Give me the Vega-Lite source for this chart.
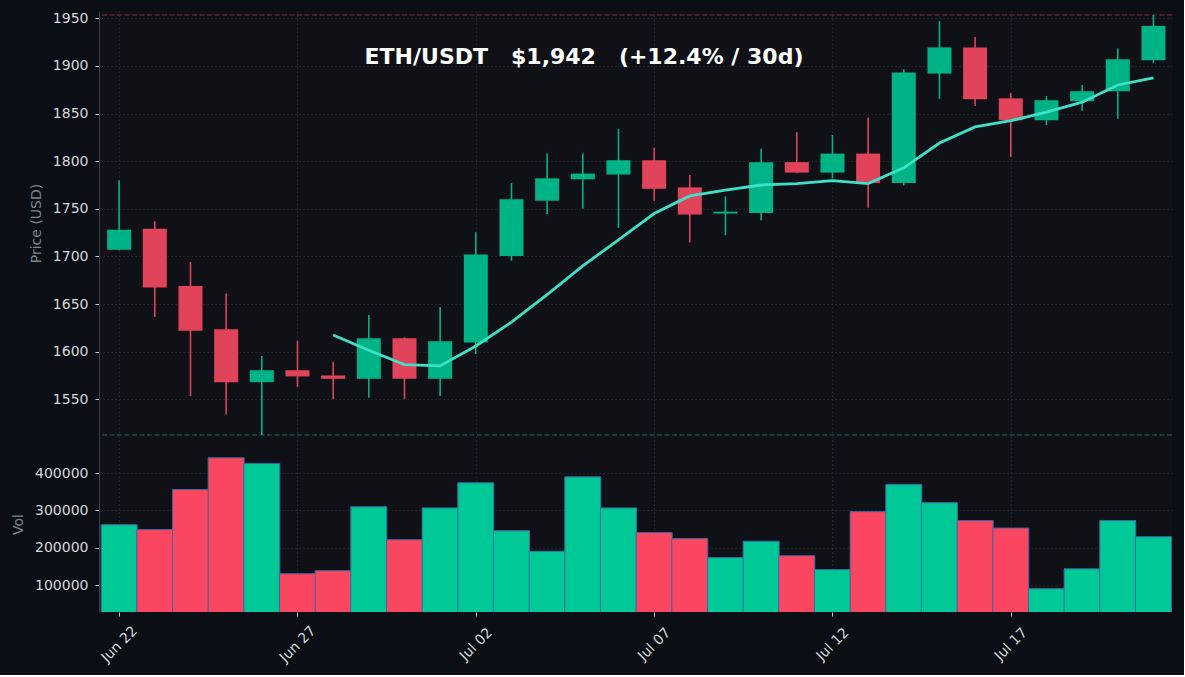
{
  "$schema": "https://vega.github.io/schema/vega-lite/v6.json",
  "background": "#0b0e14",
  "padding": {"left": 11, "top": 11, "right": 11, "bottom": 10},
  "spacing": 0,
  "title": {
    "text": "ETH/USDT\u00a0\u00a0\u00a0$1,942\u00a0\u00a0\u00a0(+12.4% / 30d)",
    "anchor": "middle",
    "frame": "bounds",
    "baseline": "alphabetic",
    "offset": -75,
    "dx": -8,
    "font": "DejaVu Sans",
    "fontSize": 22,
    "fontWeight": "bold",
    "color": "#ffffff"
  },
  "config": {
    "font": "DejaVu Sans",
    "view": {"fill": "#0f1116", "stroke": null},
    "axis": {
      "labelFont": "DejaVu Sans",
      "labelFontSize": 14,
      "labelColor": "#d4d7dd",
      "titleFont": "DejaVu Sans",
      "titleFontSize": 14,
      "titleFontWeight": "normal",
      "titleColor": "#7f838c",
      "tickColor": "#c3c6cc",
      "tickSize": 4,
      "domainColor": "#3a3e46",
      "gridColor": "#2c3039",
      "gridDash": [1.5, 2.5],
      "gridWidth": 0.8
    }
  },
  "datasets": {
    "ohlc": [
      {"date": "2023-06-22", "open": 1707, "high": 1780, "low": 1706.5, "close": 1728, "volume": 262000, "ma": null},
      {"date": "2023-06-23", "open": 1729, "high": 1737, "low": 1636.5, "close": 1667.5, "volume": 249000, "ma": null},
      {"date": "2023-06-24", "open": 1669, "high": 1694, "low": 1553.5, "close": 1622, "volume": 356000, "ma": null},
      {"date": "2023-06-25", "open": 1623.5, "high": 1661, "low": 1534, "close": 1568, "volume": 441000, "ma": null},
      {"date": "2023-06-26", "open": 1568, "high": 1595.5, "low": 1512.5, "close": 1580.5, "volume": 426000, "ma": null},
      {"date": "2023-06-27", "open": 1580.5, "high": 1611.5, "low": 1563, "close": 1574, "volume": 131000, "ma": null},
      {"date": "2023-06-28", "open": 1575, "high": 1589.5, "low": 1550, "close": 1571.5, "volume": 139000, "ma": 1617.5},
      {"date": "2023-06-29", "open": 1571.5, "high": 1638.5, "low": 1551.5, "close": 1614, "volume": 310000, "ma": 1601.5},
      {"date": "2023-06-30", "open": 1614, "high": 1615, "low": 1550.5, "close": 1571.5, "volume": 222000, "ma": 1586.5},
      {"date": "2023-07-01", "open": 1571.5, "high": 1647, "low": 1553.5, "close": 1611, "volume": 307000, "ma": 1585},
      {"date": "2023-07-02", "open": 1609.5, "high": 1725.5, "low": 1597.5, "close": 1702, "volume": 374000, "ma": 1606},
      {"date": "2023-07-03", "open": 1700.5, "high": 1777, "low": 1695.5, "close": 1760, "volume": 246000, "ma": 1631},
      {"date": "2023-07-04", "open": 1758.5, "high": 1808, "low": 1744.5, "close": 1782, "volume": 191000, "ma": 1660},
      {"date": "2023-07-05", "open": 1781, "high": 1808, "low": 1750, "close": 1787, "volume": 390000, "ma": 1690},
      {"date": "2023-07-06", "open": 1786, "high": 1834, "low": 1730, "close": 1801, "volume": 307000, "ma": 1717.5},
      {"date": "2023-07-07", "open": 1801, "high": 1814, "low": 1758.5, "close": 1771, "volume": 241000, "ma": 1745},
      {"date": "2023-07-08", "open": 1772.5, "high": 1785.5, "low": 1714.5, "close": 1744, "volume": 225000, "ma": 1763.5},
      {"date": "2023-07-09", "open": 1745, "high": 1763, "low": 1722.5, "close": 1747, "volume": 174000, "ma": 1769.5},
      {"date": "2023-07-10", "open": 1745.5, "high": 1813, "low": 1738, "close": 1799, "volume": 218000, "ma": 1775},
      {"date": "2023-07-11", "open": 1799, "high": 1830.5, "low": 1787.5, "close": 1788, "volume": 179000, "ma": 1776.5},
      {"date": "2023-07-12", "open": 1788, "high": 1827.5, "low": 1782, "close": 1808, "volume": 142000, "ma": 1779.5},
      {"date": "2023-07-13", "open": 1808, "high": 1846, "low": 1751, "close": 1777, "volume": 297000, "ma": 1776.5},
      {"date": "2023-07-14", "open": 1777, "high": 1896.5, "low": 1774.5, "close": 1893, "volume": 370000, "ma": 1793},
      {"date": "2023-07-15", "open": 1892, "high": 1947, "low": 1865.5, "close": 1919.5, "volume": 321000, "ma": 1819},
      {"date": "2023-07-16", "open": 1919.5, "high": 1930.5, "low": 1858, "close": 1865, "volume": 273000, "ma": 1836},
      {"date": "2023-07-17", "open": 1866, "high": 1871.5, "low": 1804.5, "close": 1843, "volume": 253000, "ma": 1842.5},
      {"date": "2023-07-18", "open": 1843, "high": 1868.5, "low": 1838, "close": 1864, "volume": 91000, "ma": 1851.5},
      {"date": "2023-07-19", "open": 1863, "high": 1880, "low": 1853, "close": 1873.5, "volume": 144000, "ma": 1862},
      {"date": "2023-07-20", "open": 1873.5, "high": 1918.5, "low": 1844.5, "close": 1907, "volume": 273000, "ma": 1880},
      {"date": "2023-07-21", "open": 1906, "high": 1953.5, "low": 1903, "close": 1942, "volume": 230000, "ma": 1887.5}
    ]
  },
  "vconcat": [
    {
      "width": 1073,
      "height": 424,
      "data": {"name": "ohlc"},
      "encoding": {
        "x": {
          "field": "date",
          "type": "temporal",
          "scale": {
            "type": "utc",
            "domain": [
              {"year": 2023, "month": 6, "date": 21, "hours": 13, "minutes": 48, "utc": true},
              {"year": 2023, "month": 7, "date": 21, "hours": 9, "minutes": 7, "utc": true}
            ]
          },
          "axis": {
            "values": [
              {"year": 2023, "month": 6, "date": 22, "utc": true},
              {"year": 2023, "month": 6, "date": 27, "utc": true},
              {"year": 2023, "month": 7, "date": 2, "utc": true},
              {"year": 2023, "month": 7, "date": 7, "utc": true},
              {"year": 2023, "month": 7, "date": 12, "utc": true},
              {"year": 2023, "month": 7, "date": 17, "utc": true}
            ],
            "labels": false,
            "ticks": false,
            "domain": false,
            "grid": true,
            "title": null
          }
        }
      },
      "layer": [
        {
          "mark": {"type": "rule", "color": "#7a2c3a", "strokeDash": [5, 2.5], "strokeWidth": 1},
          "encoding": {
            "x": null,
            "y": {
              "aggregate": "max", "field": "high", "type": "quantitative",
              "scale": {"domain": [1512.5, 1957.7], "zero": false, "nice": false},
              "title": "Price (USD)",
              "axis": {"values": [1550, 1600, 1650, 1700, 1750, 1800, 1850, 1900, 1950], "format": "d", "labelPadding": 7, "titlePadding": 9, "grid": true, "domain": true}
            }
          }
        },
        {
          "mark": {"type": "rule", "color": "#236b58", "strokeDash": [5, 2.5], "strokeWidth": 1},
          "encoding": {
            "x": null,
            "y": {
              "aggregate": "min", "field": "low", "type": "quantitative",
              "scale": {"domain": [1512.5, 1957.7], "zero": false, "nice": false},
              "title": "Price (USD)",
              "axis": {"values": [1550, 1600, 1650, 1700, 1750, 1800, 1850, 1900, 1950], "format": "d", "labelPadding": 7, "titlePadding": 9, "grid": true, "domain": true}
            }
          }
        },
        {
          "mark": {"type": "rule", "strokeWidth": 1.6},
          "encoding": {
            "y": {
              "field": "low", "type": "quantitative",
              "scale": {"domain": [1512.5, 1957.7], "zero": false, "nice": false},
              "title": "Price (USD)",
              "axis": {"values": [1550, 1600, 1650, 1700, 1750, 1800, 1850, 1900, 1950], "format": "d", "labelPadding": 7, "titlePadding": 9, "grid": true, "domain": true}
            },
            "y2": {"field": "high"},
            "color": {"condition": {"test": "datum.close >= datum.open", "value": "#00b386"}, "value": "#e0435a"}
          }
        },
        {
          "mark": {"type": "bar", "width": 24},
          "encoding": {
            "y": {
              "field": "open", "type": "quantitative",
              "scale": {"domain": [1512.5, 1957.7], "zero": false, "nice": false},
              "title": "Price (USD)",
              "axis": {"values": [1550, 1600, 1650, 1700, 1750, 1800, 1850, 1900, 1950], "format": "d", "labelPadding": 7, "titlePadding": 9, "grid": true, "domain": true}
            },
            "y2": {"field": "close"},
            "color": {"condition": {"test": "datum.close >= datum.open", "value": "#00b386"}, "value": "#e0435a"}
          }
        },
        {
          "mark": {"type": "line", "color": "#3fe0c8", "strokeWidth": 2.8},
          "encoding": {
            "y": {
              "field": "ma", "type": "quantitative",
              "scale": {"domain": [1512.5, 1957.7], "zero": false, "nice": false},
              "title": "Price (USD)",
              "axis": {"values": [1550, 1600, 1650, 1700, 1750, 1800, 1850, 1900, 1950], "format": "d", "labelPadding": 7, "titlePadding": 9, "grid": true, "domain": true}
            }
          }
        }
      ]
    },
    {
      "width": 1073,
      "height": 176,
      "data": {"name": "ohlc"},
      "mark": {"type": "bar", "width": 36, "stroke": "#3b6aa3", "strokeWidth": 1, "clip": true},
      "encoding": {
        "x": {
          "field": "date",
          "type": "temporal",
          "scale": {
            "type": "utc",
            "domain": [
              {"year": 2023, "month": 6, "date": 21, "hours": 13, "minutes": 48, "utc": true},
              {"year": 2023, "month": 7, "date": 21, "hours": 9, "minutes": 7, "utc": true}
            ]
          },
          "axis": {
            "values": [
              {"year": 2023, "month": 6, "date": 22, "utc": true},
              {"year": 2023, "month": 6, "date": 27, "utc": true},
              {"year": 2023, "month": 7, "date": 2, "utc": true},
              {"year": 2023, "month": 7, "date": 7, "utc": true},
              {"year": 2023, "month": 7, "date": 12, "utc": true},
              {"year": 2023, "month": 7, "date": 17, "utc": true}
            ],
            "format": "%b %d",
            "labelAngle": -45,
            "labelAlign": "center",
            "labelBaseline": "middle",
            "labelPadding": 28,
            "grid": true,
            "domain": false,
            "title": null
          }
        },
        "y": {
          "field": "volume",
          "type": "quantitative",
          "scale": {"domain": [28600, 499200], "zero": false, "nice": false},
          "title": "Vol",
          "axis": {"values": [100000, 200000, 300000, 400000], "format": "d", "labelPadding": 7, "titlePadding": 9, "grid": true, "domain": true}
        },
        "color": {"condition": {"test": "datum.close >= datum.open", "value": "#00c896"}, "value": "#fa4661"}
      }
    }
  ]
}
